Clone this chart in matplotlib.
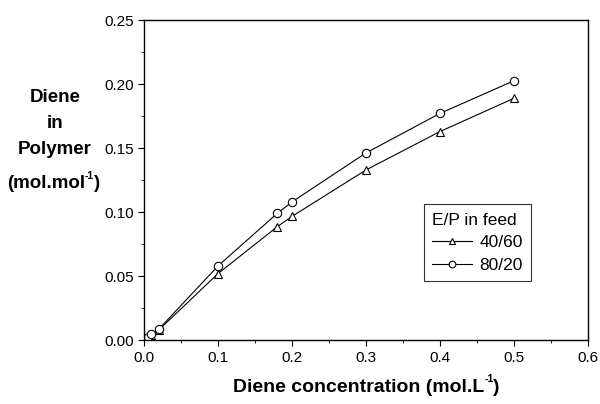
import matplotlib.pyplot as plt
from matplotlib.ticker import MultipleLocator

plt.rcParams['font.family'] = ['Liberation Sans', 'DejaVu Sans']

conc = [0.005, 0.01, 0.02, 0.1, 0.18, 0.2, 0.3, 0.4, 0.5]
ep_40_60 = [0.002, 0.004, 0.008, 0.052, 0.0886, 0.0967, 0.133, 0.163, 0.189]
ep_80_20 = [0.0026, 0.005, 0.0086, 0.058, 0.099, 0.108, 0.1463, 0.1772, 0.2027]

W, H = 600, 404
fig = plt.figure(figsize=(W / 100, H / 100), dpi=100)
ax = fig.add_axes([0.24, 0.158, 0.74, 0.792])

ax.plot(conc, ep_40_60, '-^', color='k', lw=0.8, ms=6, mfc='white', mew=0.8, label='40/60')
ax.plot(conc, ep_80_20, '-o', color='k', lw=0.8, ms=6, mfc='white', mew=0.8, label='80/20')

ax.set_xlim(0, 0.6)
ax.set_ylim(0, 0.25)
ax.xaxis.set_major_locator(MultipleLocator(0.1))
ax.xaxis.set_minor_locator(MultipleLocator(0.05))
ax.yaxis.set_major_locator(MultipleLocator(0.05))
ax.yaxis.set_minor_locator(MultipleLocator(0.025))
ax.xaxis.set_major_formatter(plt.FormatStrFormatter('%.1f'))
ax.yaxis.set_major_formatter(plt.FormatStrFormatter('%.2f'))
ax.tick_params(which='major', direction='out', length=4, labelsize=11)
ax.tick_params(which='minor', direction='out', length=2.5)
for s in ax.spines.values():
    s.set_linewidth(1.0)


def sup_text(xc, yc, base, sup, tail, size):
    # bold text with a small superscript, centred on (xc, yc) in pixels
    r = fig.canvas.get_renderer()
    dy = size * 0.42 * 100 / 72
    parts = [fig.text(0, 1 - yc / H, base, fontsize=size, fontweight='bold', va='center'),
             fig.text(0, 1 - (yc - dy) / H, sup, fontsize=size * 0.55, fontweight='bold', va='center'),
             fig.text(0, 1 - yc / H, tail, fontsize=size, fontweight='bold', va='center')]
    widths = [p.get_window_extent(r).width for p in parts]
    x = xc - sum(widths) / 2
    for p, w in zip(parts, widths):
        p.set_x(x / W)
        x += w - 0.5


# axis titles
sup_text(367, 387, 'Diene concentration (mol.L', '-1', ')', 14)
for t, yp in zip(['Diene', 'in', 'Polymer'], [97, 123, 150]):
    fig.text(55 / W, 1 - yp / H, t, ha='center', va='center', fontsize=13.5, fontweight='bold')
sup_text(54, 184, '(mol.mol', '-1', ')', 13.5)

leg = ax.legend(title='E/P in feed', loc='upper left', bbox_to_anchor=(0.63, 0.425),
                fontsize=12.5, title_fontsize=12.5, frameon=True, fancybox=False,
                edgecolor='k', handlelength=2.3, borderpad=0.5, labelspacing=0.42,
                handletextpad=0.4, borderaxespad=0, markerscale=0.8)
leg.get_frame().set_linewidth(0.8)
leg._legend_box.align = 'left'

fig.savefig('out.png', dpi=100)
